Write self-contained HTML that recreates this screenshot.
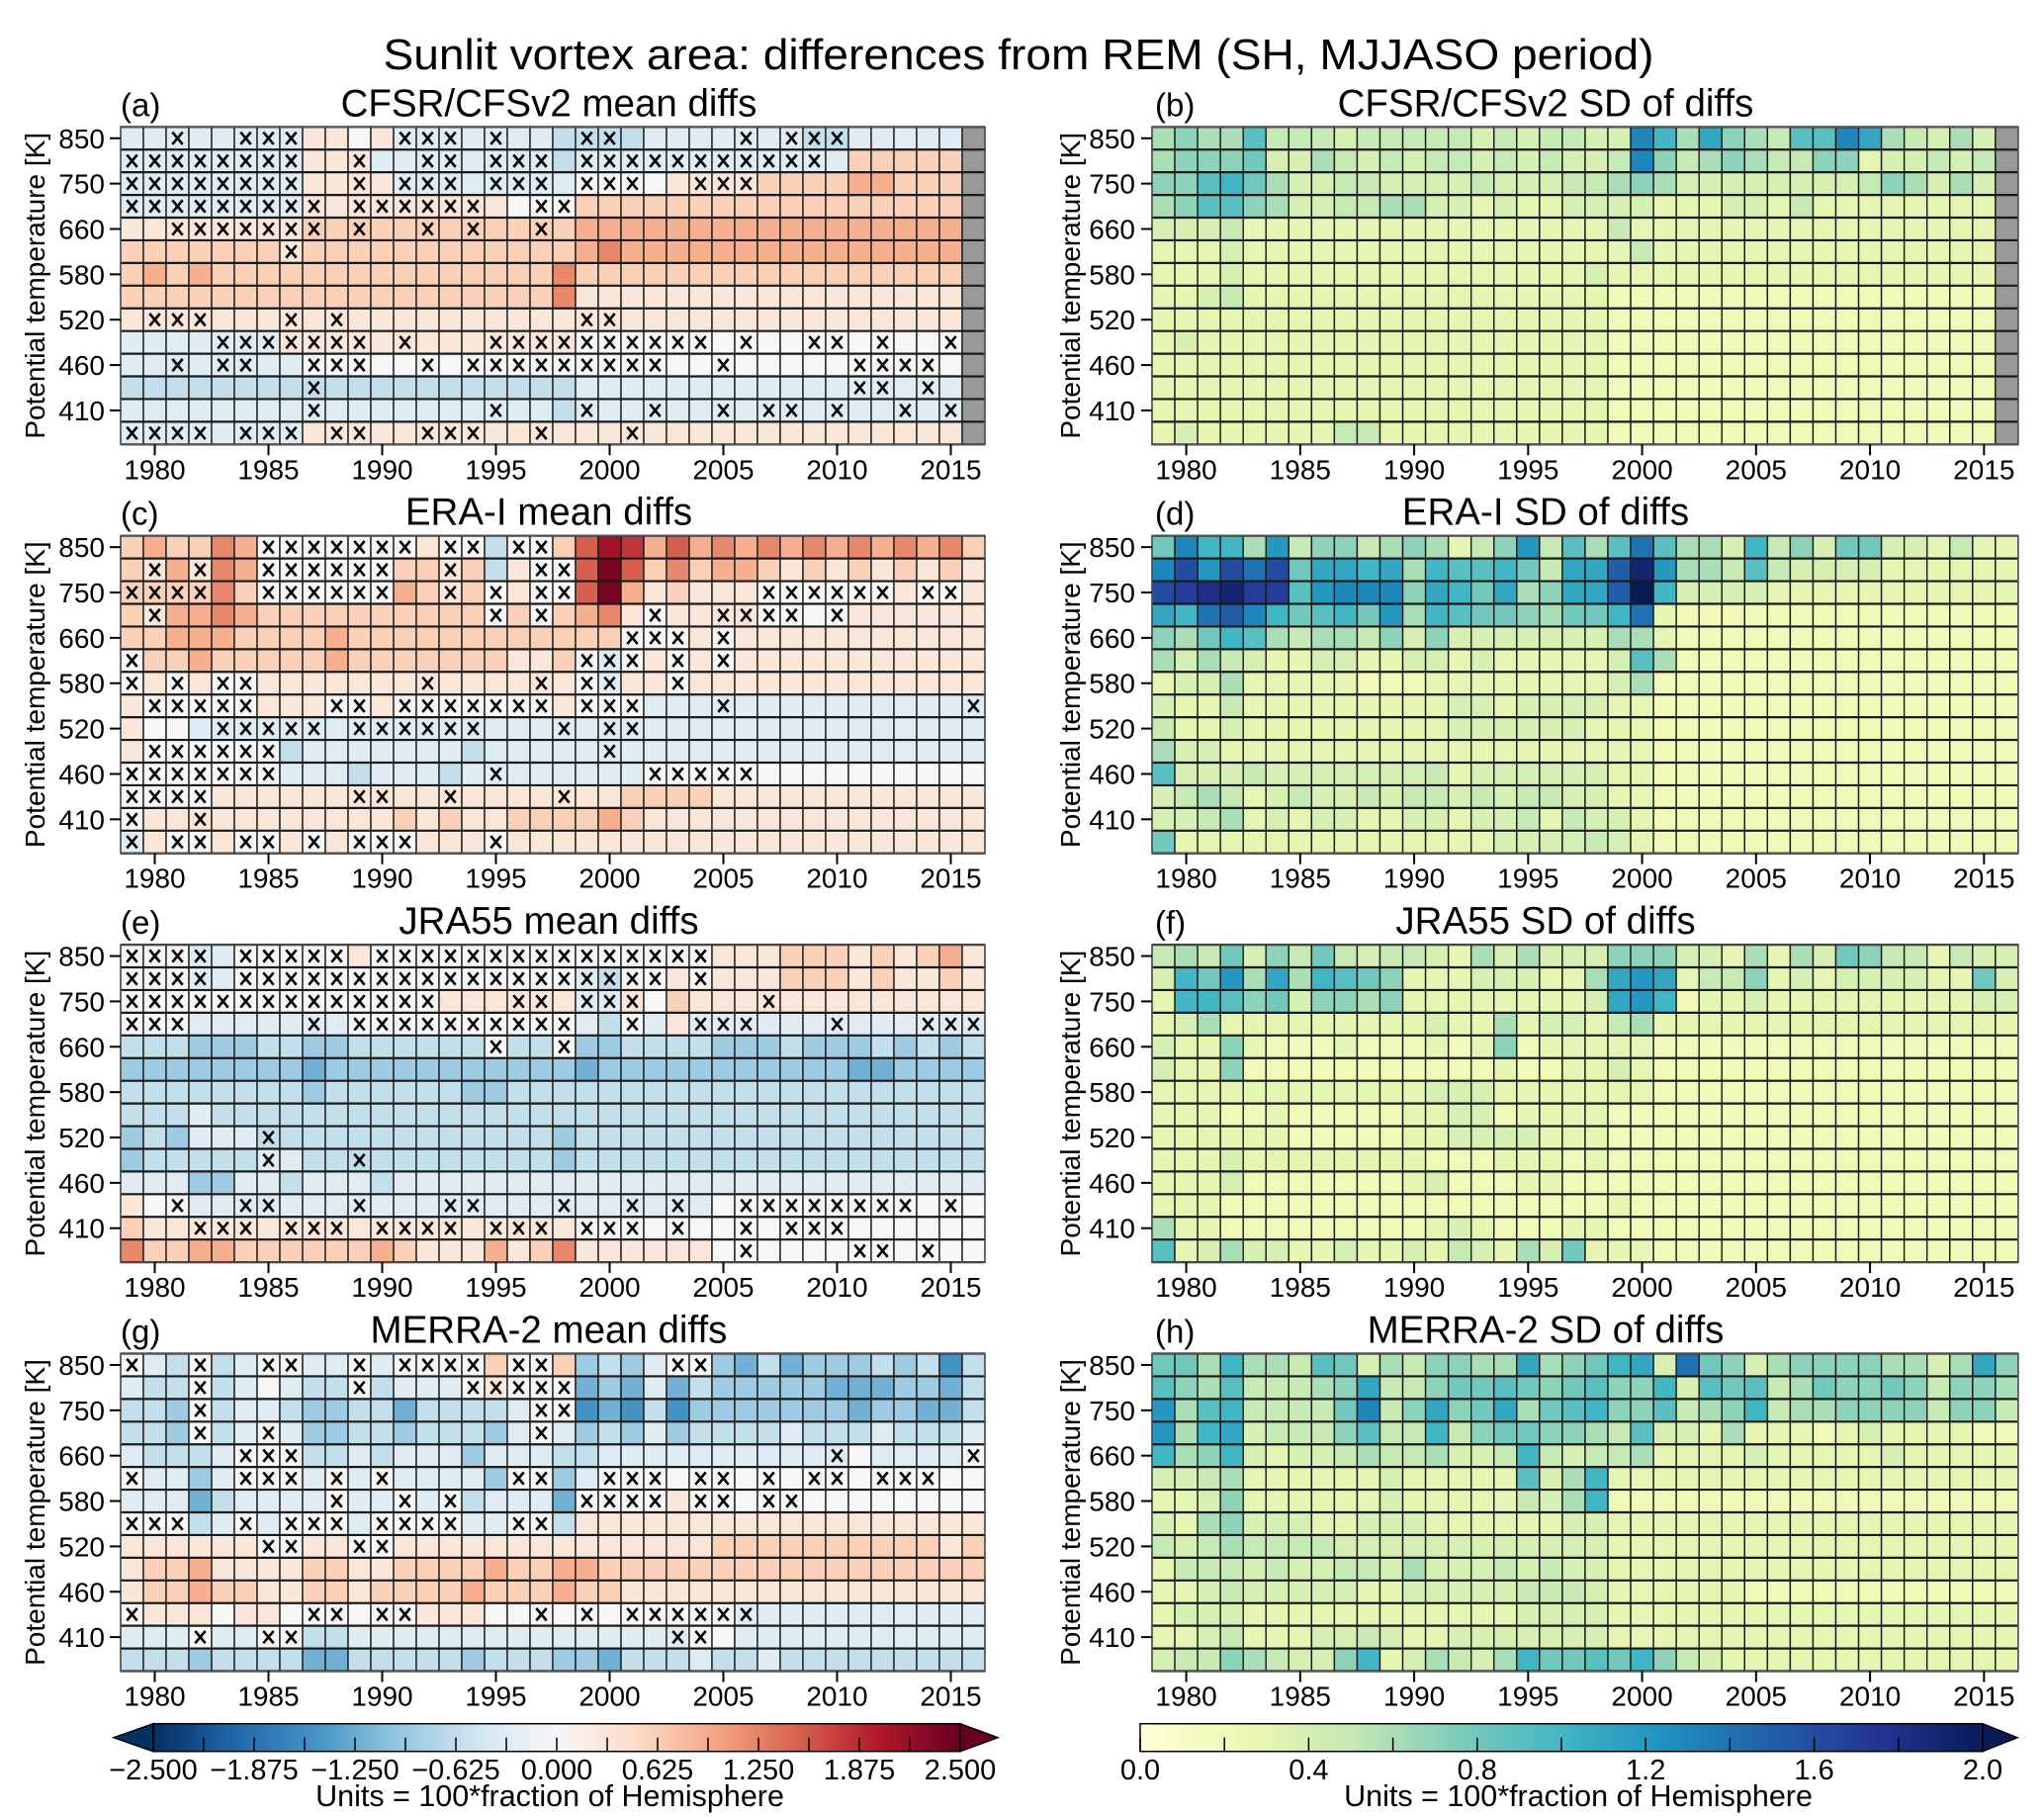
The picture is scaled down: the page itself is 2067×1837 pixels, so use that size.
<!DOCTYPE html>
<html><head><meta charset="utf-8">
<style>
html,body{margin:0;padding:0;background:#fff;}
svg{display:block;font-family:"Liberation Sans",Arial,sans-serif;}
</style></head>
<body>
<svg id="fig" xmlns="http://www.w3.org/2000/svg" width="2067" height="1837" viewBox="0 0 2067 1837">
<rect x="0" y="0" width="2067" height="1837" fill="#fff"/>
<text x="1030" y="70" font-size="44" text-anchor="middle" textLength="1285" lengthAdjust="spacingAndGlyphs">Sunlit vortex area: differences from REM (SH, MJJASO period)</text>
<g id="panels"></g>
<g id="cbars"></g>
</svg>
<script>
// ---------- categories / tick labels ----------
const years = [1979,1980,1981,1982,1983,1984,1985,1986,1987,1988,1989,1990,1991,1992,1993,1994,1995,1996,1997,1998,1999,2000,2001,2002,2003,2004,2005,2006,2007,2008,2009,2010,2011,2012,2013,2014,2015,2016];
const levels = ["850","800","750","700","660","620","580","550","520","490","460","435","410","390"];
const yTickLabels = ["850","","750","","660","","580","","520","","460","","410",""];
const xTickYears = [1980,1985,1990,1995,2000,2005,2010,2015];
const meanTicks = [-2.5,-1.875,-1.25,-0.625,0,0.625,1.25,1.875,2.5];
const sdTicks = [0,0.4,0.8,1.2,1.6,2.0];

// ---------- mean diff values (code: digit d => +0.3d, letter => -0.3*n, '.' missing) ----------
const meanA = [
"aaaaaaaa"+"1101"+"aaaaaaa"+"bbbb"+"aaaaaaa"+"bb"+"aaaaa"+".",
"aaaaaaaa"+"111"+"aaaaaaaa"+"b"+"aaaaaaaaaaaa"+"22222"+".",
"aaaaaaaa"+"1111"+"aaaaaaa"+"a"+"0000"+"1111"+"222233222"+".",
"aaaaaaaa"+"111111111"+"000"+"22222222222222222"+".",
"11111111"+"222222222222"+"33333333333333333"+".",
"2222222"+"1"+"222222222222"+"34333333333333333"+".",
"2323"+"222222222222222"+"4"+"22222222222222222"+".",
"2222222222222222222"+"4"+"11111111111111111"+".",
"1111111111111111111111111111111111111"+".",
"aaaaaaa"+"1111111111111"+"00000000000000000"+".",
"aaaaaaaa"+"000000000000"+"00000000000000000"+".",
"bbbbbbbbbbbbbbbbbbbb"+"aaaaaaaaaaaaaaaaa"+".",
"aaaaaaaaaaaaaaaaaaa"+"b"+"aaaaaaaaaaaaaaaaa"+".",
"aaaaaaaa"+"111111111111"+"11111111111111111"+"."
];
const meanC = [
"232243"+"0000000"+"1"+"00"+"b"+"00"+"2"+"5"+"7"+"6"+"353"+"43434343434"+"2",
"213143"+"000000"+"2212b100"+"58524233"+"2121212121",
"2222"+"4"+"2"+"000000"+"32120100"+"58312111"+"000000"+"1"+"00"+"1",
"21"+"3343"+"2222222222"+"0202"+"34"+"10"+"1111"+"0000"+"111111",
"2233"+"3"+"222232222222222"+"22"+"000"+"1"+"0"+"11111111111",
"0"+"22"+"3"+"2222232"+"222222112"+"0a0101"+"0"+"11111111111",
"0101"+"00"+"11111111111111"+"0a"+"11"+"0"+"1111111111111",
"1"+"00000"+"111001"+"0000000"+"1"+"000"+"aaaaaaaaaaaaaaa",
"100"+"aaaaaaaaaaaaaaaaaaaaaaaaaaaaaaaaaaa",
"1000000"+"b"+"aaaaaaa"+"b"+"aaaaaaaaaaaaaaaaaaaaaa",
"0000000"+"aaabaaabaaaaa"+"aaa"+"00000"+"0000000000",
"0000"+"1111111111111111112222111111111111",
"0111"+"11111111"+"2"+"1"+"2"+"11"+"22"+"2232"+"111111111111111",
"a100"+"1"+"00"+"1"+"0"+"1"+"000"+"1110"+"111111111111111111111"
];
const meanE = [
"000a"+"a"+"00000"+"1"+"000000000000000"+"111222121231",
"000a"+"a"+"000000000000000"+"ab"+"00"+"1"+"0"+"111222121121",
"00000000000000"+"11"+"1111"+"aa"+"1"+"0"+"2"+"1111111111111",
"000"+"aaaaaaa"+"0000000000"+"a"+"b"+"0"+"a"+"1"+"aaaaaaaaaaaaa",
"bbb"+"cccbbccb"+"bbbbb"+"0"+"bb"+"0"+"cc"+"bbbbcccbcccbcbcb",
"cccccccc"+"d"+"ccccccccccc"+"d"+"ccccccccccc"+"dd"+"cccc",
"bbbbbbbb"+"c"+"bbbbbb"+"cc"+"bbbbbbbbbbbbbbbbbbbbb",
"bbba"+"bbbbbbbbbbbbbbbbbbbbbbbbbbbbbbbbbb",
"cbcaaa"+"bbbbbbbbbbbbb"+"c"+"bbbbbbbbbbbbbbbbbb",
"cbbbbbaa"+"bbbbbbbbbbb"+"c"+"bbbbbbbbbbbbbbbbbb",
"aaacca"+"abaaabaaaaaaa"+"aaaaaaaaaaaaaaaaaaa",
"100"+"aaaaaaaaaaaaaaaaaaaaaaa"+"000000000000",
"2"+"1111111111111111111"+"000000000000000000",
"4"+"2"+"2"+"3"+"3"+"222222"+"3"+"2"+"111"+"3"+"1"+"2"+"4"+"111111"+"000000000000"
];
const meanG = [
"0ab0ba00aa0a00002002"+"cbca00cdbdcccbcbeb",
"abb0ba0abb0baaa01000"+"dcdadbcccccdddccdb",
"bbc0baabccbbdbbbba00"+"edebecccccccdccddb",
"bbc0ba0accbbcbbbca0a"+"cbcacbbbbabbbabbba",
"abbba000bbabaaacaaab"+"baaaaaaaaaaa0aaaa0",
"0aaca000a0a0aaaac00c"+"a00000000000000000",
"aaadbaaaa0aa0a0baaad"+"000010000000000000",
"000ba0a000a0000aa00b"+"111111111111111111",
"11111100110011111111"+"111111222222222212",
"12231111221122223223"+"322222222222222222",
"12232211221222232223"+"221111111111111111",
"01110110000001110000"+"0000000aaaaaaaaaaa",
"aaa0aa00bbaaaaaaaaaa"+"aaaaa00aaaaaaaaaaa",
"bbbcbbbbddbbbbbcbbbc"+"cdbbbabbabbbbbbbbb"
];

// ---------- SD values (code: digit d => 0.1d, letter a..k => 1.0..2.0) ----------
const sdB = [
"6766"+"9"+"555455555454554"+"4"+"da6b76599db65464.",
"6777"+"8"+"446545455454544"+"5"+"d756765577344545.",
"779a86"+"44554444544455"+"6"+"7"+"6"+"44444444"+"576464"+".",
"679976"+"44556644343344"+"44"+"333443533333333"+".",
"4445"+"3333333333333333"+"5"+"3"+"333333333333333"+".",
"3334"+"3333333333333333"+"3"+"5"+"333333333333333"+".",
"3334"+"333333333333333"+"4"+"33333333333333333"+".",
"3345"+"333333333333333"+"3"+"22222222222222222"+".",
"3333"+"3333333333333333"+"22222222222222222"+".",
"3433"+"3333333333333333"+"22222222222222222"+".",
"3333"+"3333333333333333"+"22222222222222222"+".",
"3333"+"3333333333333333"+"22222222222222222"+".",
"3333"+"3333333333333333"+"22222222222222222"+".",
"3433"+"3333"+"55"+"3333333333"+"22222222222222222"+"."
];
const sdD = [
"8daa6c5775"+"676357c596"+"9e9664a574"+"88443533",
"dgcgeg8bba"+"b6a99a85bb"+"fjc6659544"+"44333333",
"ghijhh9cdd"+"d7ba8b67bb"+"fka"+"444433333333333",
"baefda89a8"+"c6a9887688"+"ae3"+"222222222222222",
"768a965665"+"7474444444"+"663"+"222222222222222",
"64654"+"3"+"34433443433333"+"4"+"9"+"6"+"222222222222222",
"3446"+"3333322233333333"+"46"+"2222222222222222",
"4335"+"3333333334434444"+"33"+"2222222222222222",
"5334"+"3333333334444443"+"33"+"2222222222222222",
"6443"+"3333333333333333"+"33"+"2222222222222222",
"9444"+"5444444453444444"+"33"+"2222222222222222",
"4565"+"3454454554545544"+"33"+"2222222222222222",
"4456"+"3434433443445354"+"43"+"2222222222222222",
"8333"+"3333333333344445"+"43"+"2222222222222222"
];
const sdF = [
"5658475854"+"5543646444"+"7774436364"+"87553544",
"4a8c6b6a98"+"7333444336"+"bcb3557343"+"44443384",
"3aa9784776"+"7333333334"+"bca2334333"+"33333344",
"3463"+"3333333343363443"+"56"+"3333333333333333",
"4337"+"3222322232372333"+"33"+"2222222222222222",
"4337"+"2222222222232233"+"43"+"2222222222222222",
"3333"+"3333333344433333"+"33"+"2222222222222222",
"3332"+"2322222334423333"+"22"+"2222222222222222",
"3333"+"3322222334444333"+"22"+"2222222222222222",
"3334"+"3333333322233323"+"22"+"2222222222222222",
"3334"+"2222222342223322"+"22"+"2222222222222222",
"3332"+"2222222222222222"+"32"+"2222222222222222",
"6332"+"2222222234322233"+"22"+"2222222222222222",
"9346"+"4433433435436483"+"33"+"2222222222222222"
];
const sdH = [
"886a665984"+"657766b678"+"ab4e874677"+"776646b7",
"976955567b"+"5578898789"+"77a4989568"+"77875776",
"c69a55558d"+"57b78b689a"+"779567a566"+"77775775",
"c6ab455579"+"55a5788776"+"5944363332"+"34333322",
"a67a434456"+"556445a545"+"5633334333"+"33433333",
"4456"+"333333433333"+"946a"+"333333333333333333",
"3347"+"333333433333"+"546a"+"222222222222222222",
"4367"+"444334443333"+"3344"+"333333333333333333",
"5456"+"555544444444"+"4444"+"333333333333333333",
"3555"+"454455464445"+"4544"+"333333333333333333",
"3345"+"444443344444"+"5554"+"333333222222222222",
"3444"+"333333333333"+"4444"+"333333333333333333",
"3345"+"333445433444"+"4444"+"333333333333333333",
"455765447a"+"346546a889"+"8a75433333"+"33333333"
];

// ---------- crosses (column indices per level row) ----------
const crossA = ["2,5-7,12-14,16,20,21,27,29-31","0-7,10,13,14,16-18,20-30","0-7,10,12-14,16-18,20-22,25-27","0-8,10-15,18,19","2-8,10,13,15,18","7","","","1-3,7,9,20,21","4-10,12,16-25,27,30,31,33,36","2,4,5,8-10,13,15-23,26,32-35","8,32,33,35","8,16,20,23,26,28,29,31,34,36","0-3,5-7,9,10,13-15,18,22"];
const crossC = ["6-12,14,15,17,18","1,3,6-11,14,18,19","0-3,6-11,14,16,18,19,28-33,35,36","1,16,18,23,26-29,31","22-24,26","0,20-22,24,26","0,2,4,5,13,18,20,21,24","1-5,9,10,12-18,20-22,26,37","4-8,10-15,19,21,22","1-6,21","0-6,16,23-27","0-3,10,11,14,19","0,3","0,2,3,5,6,8,10-12,16"];
const crossE = ["0-3,5-9,11-25","0-3,5-23,25","0-13,17,18,20-22,28","0-2,8,10-19,22,25-27,31,35-37","16,19","","","","6","6,10","","2,5,6,10,14,15,19,22,24,27-34,36","3-5,7-9,11-14,16-18,20-22,24,27,29-31","27,32,33,35"];
const crossG = ["0,3,6,7,10,12-15,17,18,24,25","3,10,15-19","3,18,19","3,6,18","5-7,31,37","0,5-7,9,11,17,18,21-23,25,26,28,30,31,33-35","9,12,14,20-23,25,26,28,29","0-2,5,7-9,11-14,17,18","6,7,10,11","","","0,8,9,11,12,18,20,22-27","3,6,7,24,25",""];

// ---------- decoding ----------
function decMean(ch){ if(ch==='.') return NaN; if(ch>='0'&&ch<='9') return (+ch)*0.3; return -(ch.charCodeAt(0)-96)*0.3; }
function decSD(ch){ if(ch==='.') return NaN; if(ch>='0'&&ch<='9') return (+ch)*0.1; return 1.0+(ch.charCodeAt(0)-97)*0.1; }
function rowVals(s,dec){ const out=[]; for(let i=0;i<years.length;i++){ const c = i<s.length ? s[i] : s[s.length-1]; out.push(dec(c)); } return out; }
function parseIdx(s){ const set=new Set(); if(!s) return set; s.split(',').forEach(p=>{ const q=p.split('-'); const a=+q[0], b=q.length>1?+q[1]:a; for(let k=a;k<=b;k++) set.add(k); }); return set; }

// ---------- colour maps ----------
const rdbu = ["#053061","#2166ac","#4393c3","#92c5de","#d1e5f0","#f7f7f7","#fddbc7","#f4a582","#d6604d","#b2182b","#67001f"];
const ylgnbu = ["#ffffd9","#edf8b1","#c7e9b4","#7fcdbb","#41b6c4","#1d91c0","#225ea8","#253494","#081d58"];
function hex(h){return [parseInt(h.substr(1,2),16),parseInt(h.substr(3,2),16),parseInt(h.substr(5,2),16)];}
function interp(stops,t){ t=Math.max(0,Math.min(1,t)); const n=stops.length-1; const f=t*n; const i=Math.min(n-1,Math.floor(f)); const u=f-i; const a=hex(stops[i]), b=hex(stops[i+1]); return 'rgb('+a.map((v,k)=>Math.round(v+(b[k]-v)*u)).join(',')+')'; }
function meanColor(v){ return interp(rdbu,(v+2.5)/5); }
function sdColor(v){ return interp(ylgnbu,v/2.0); }

// ---------- layout ----------
const NS="http://www.w3.org/2000/svg";
function mk(tag,attrs,parent){ const e=document.createElementNS(NS,tag); for(const k in attrs) e.setAttribute(k,attrs[k]); if(parent) parent.appendChild(e); return e; }
const colX0=[122,1165], colW=[23.0,23.05], panelTop0=128.3, panelDy=413.4, rowH=22.93;
const titleCX=[555,1563], labelX=[122,1168], yTickEnd=[106,1148], yTitleX=[36,1083];
const panels=[
 {key:'a',title:'CFSR/CFSv2 mean diffs',vals:meanA,cross:crossA,kind:'mean',c:0,r:0},
 {key:'b',title:'CFSR/CFSv2 SD of diffs',vals:sdB,cross:null,kind:'sd',c:1,r:0},
 {key:'c',title:'ERA-I mean diffs',vals:meanC,cross:crossC,kind:'mean',c:0,r:1},
 {key:'d',title:'ERA-I SD of diffs',vals:sdD,cross:null,kind:'sd',c:1,r:1},
 {key:'e',title:'JRA55 mean diffs',vals:meanE,cross:crossE,kind:'mean',c:0,r:2},
 {key:'f',title:'JRA55 SD of diffs',vals:sdF,cross:null,kind:'sd',c:1,r:2},
 {key:'g',title:'MERRA-2 mean  diffs',vals:meanG,cross:crossG,kind:'mean',c:0,r:3},
 {key:'h',title:'MERRA-2 SD of diffs',vals:sdH,cross:null,kind:'sd',c:1,r:3}
];
const root=document.getElementById('panels');
panels.forEach(p=>{
  const x0=colX0[p.c], cw=colW[p.c], top=panelTop0+panelDy*p.r, bottom=top+rowH*levels.length;
  const xPos=i=>x0+cw*i, yPos=r=>top+rowH*r;
  const g=mk('g',{},root);
  
  
  const lab=mk('text',{x:labelX[p.c],y:top-11,'font-size':33},g); lab.textContent='('+p.key+')';
  
  
  const tt=mk('text',{x:titleCX[p.c],y:top-11,'font-size':38.5,'text-anchor':'middle'},g); tt.textContent=p.title;
  
  
  const cells=mk('g',{},g);
  
  
  const dec=p.kind==='mean'?decMean:decSD;
  p.vals.forEach((s,r)=>{
    const vals=rowVals(s,dec);
    vals.forEach((v,i)=>{
      const fill=isNaN(v)?'#999999':(p.kind==='mean'?meanColor(v):sdColor(v));
      const rc=mk('rect',{x:xPos(i).toFixed(2),y:yPos(r).toFixed(2),width:cw.toFixed(2),height:rowH.toFixed(2),fill:fill,stroke:'#1a1a1a','stroke-width':1.4},cells);
      
      
    });
  });
  for(let r=0;r<=levels.length;r++){ mk('line',{x1:x0,x2:xPos(years.length),y1:yPos(r),y2:yPos(r),stroke:'#1a1a1a','stroke-width':2.2},cells); }
  mk('rect',{x:x0,y:top,width:cw*years.length,height:rowH*levels.length,fill:'none',stroke:'#555','stroke-width':1.5},g);
  if(p.cross){
    const cg=mk('g',{stroke:'#000','stroke-width':2.6,'stroke-linecap':'butt'},g);
    
    
    p.cross.forEach((s,r)=>{
      parseIdx(s).forEach(i=>{
        const cx=xPos(i)+cw/2, cy=yPos(r)+rowH/2, h=6.2, w=5.2;
        const pth=mk('path',{d:`M${cx-w},${cy-h}L${cx+w},${cy+h}M${cx+w},${cy-h}L${cx-w},${cy+h}`,fill:'none'},cg);
        
        
      });
    });
  }
  yTickLabels.forEach((l,r)=>{
    if(!l) return;
    const cy=yPos(r)+rowH/2;
    mk('line',{x1:x0-11,x2:x0,y1:cy,y2:cy,stroke:'#000','stroke-width':2},g);
    const t=mk('text',{x:yTickEnd[p.c],y:cy+10,'font-size':28,'text-anchor':'end'},g); t.textContent=l;
    
    
  });
  const yt=mk('text',{x:0,y:0,'font-size':28,'text-anchor':'middle',transform:`translate(${yTitleX[p.c]+9},${(top+bottom)/2}) rotate(-90)`},g);
  yt.textContent='Potential temperature [K]';
  
  
  xTickYears.forEach(yr=>{
    const i=years.indexOf(yr), cx=xPos(i)+cw/2;
    mk('line',{x1:cx,x2:cx,y1:bottom,y2:bottom+11,stroke:'#000','stroke-width':2},g);
    const t=mk('text',{x:cx,y:bottom+35,'font-size':28,'text-anchor':'middle'},g); t.textContent=String(yr);
    
    
  });
});

// ---------- colour bars ----------
const cb=document.getElementById('cbars');
const defs=mk('defs',{},cb);
function grad(id,stops){ const lg=mk('linearGradient',{id:id,x1:0,x2:1,y1:0,y2:0},defs); stops.forEach((c,k)=>mk('stop',{offset:(k/(stops.length-1)),'stop-color':c},lg)); }
grad('gMean',rdbu); grad('gSD',ylgnbu);
const cbTop=1742.7, cbH=28;
(function(){
  const x0=155,x1=971; const g=mk('g',{},cb);
  
  
  mk('polygon',{points:`115,${cbTop+cbH/2} ${x0},${cbTop} ${x0},${cbTop+cbH}`,fill:rdbu[0],stroke:'#000','stroke-width':1.5},g);
  mk('polygon',{points:`1009,${cbTop+cbH/2} ${x1},${cbTop} ${x1},${cbTop+cbH}`,fill:rdbu[10],stroke:'#000','stroke-width':1.5},g);
  mk('rect',{x:x0,y:cbTop,width:x1-x0,height:cbH,fill:'url(#gMean)',stroke:'#000','stroke-width':1.5},g);
  const xv=v=>x0+(v+2.5)/5*(x1-x0);
  for(let k=0;k<=16;k++){ const x=xv(-2.5+k*0.3125); mk('line',{x1:x,x2:x,y1:cbTop+cbH-14,y2:cbTop+cbH,stroke:'#000','stroke-width':1.5},g); }
  meanTicks.forEach(v=>{ const t=mk('text',{x:xv(v),y:1799,'font-size':29,'text-anchor':'middle'},g); t.textContent=(v<0?'\u2212':'')+Math.abs(v).toFixed(3);
    
     });
  const u=mk('text',{x:556,y:1826,'font-size':30.5,'text-anchor':'middle'},g); u.textContent='Units = 100*fraction of Hemisphere';
  
  
})();
(function(){
  const x0=1153,x1=2005; const g=mk('g',{},cb);
  
  
  mk('polygon',{points:`2040,${cbTop+cbH/2} ${x1},${cbTop} ${x1},${cbTop+cbH}`,fill:ylgnbu[8],stroke:'#000','stroke-width':1.5},g);
  mk('rect',{x:x0,y:cbTop,width:x1-x0,height:cbH,fill:'url(#gSD)',stroke:'#000','stroke-width':1.5},g);
  const xv=v=>x0+v/2*(x1-x0);
  for(let k=0;k<=10;k++){ const x=xv(k*0.2); mk('line',{x1:x,x2:x,y1:cbTop+cbH-14,y2:cbTop+cbH,stroke:'#000','stroke-width':1.5},g); }
  sdTicks.forEach(v=>{ const t=mk('text',{x:xv(v),y:1799,'font-size':29,'text-anchor':'middle'},g); t.textContent=v.toFixed(1);
    
     });
  const u=mk('text',{x:1596,y:1826,'font-size':30.5,'text-anchor':'middle'},g); u.textContent='Units = 100*fraction of Hemisphere';
  
  
})();
</script>
</body></html>
